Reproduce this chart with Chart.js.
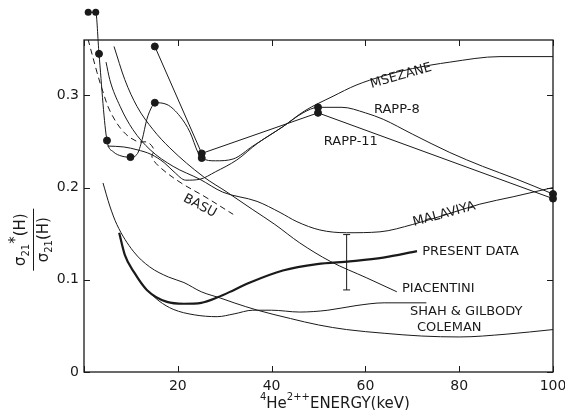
<!DOCTYPE html>
<html>
<head>
<meta charset="utf-8">
<script src="https://cdn.jsdelivr.net/npm/chart.js@4.4.1/dist/chart.umd.min.js"></script>
<style>
  html, body { margin: 0; padding: 0; background: #fff; }
</style>
</head>
<body>
<canvas id="chart" width="565" height="410"></canvas>
<script>
// 坐标轴刻度
const xTicks = [0, 20, 40, 60, 80, 100];
const yTicks = [0, 0.1, 0.2, 0.3];

// RAPP-8 平滑曲线及其测量点
const rapp8CurveE = [0.9, 2.5, 3.2, 4.9, 6.2, 8.1, 9.9, 11.3, 12.4, 13.4, 14.5, 15.1, 17.7, 20.5, 22.6, 24.3, 25.1, 28, 31.8, 36, 42.4, 46.7, 49.9, 55, 60, 63.8, 70, 78, 85, 92.3, 100];
const rapp8CurveV = [0.390, 0.390, 0.345, 0.251, 0.239, 0.234, 0.233, 0.236, 0.252, 0.274, 0.288, 0.292, 0.290, 0.277, 0.260, 0.238, 0.232, 0.229, 0.231, 0.245, 0.266, 0.281, 0.287, 0.287, 0.281, 0.274, 0.258, 0.238, 0.223, 0.209, 0.193];
const rapp8PointE = [0.9, 2.5, 3.2, 4.9, 9.9, 15.1, 25.1, 49.9, 100];
const rapp8PointV = [0.390, 0.390, 0.345, 0.251, 0.233, 0.292, 0.232, 0.287, 0.193];

// RAPP-11 折线
const rapp11E = [15.1, 25.1, 49.9, 100];
const rapp11V = [0.353, 0.237, 0.281, 0.188];

// 理论曲线
const msezaneE = [5, 8.5, 11.3, 14.3, 17.1, 19.2, 21.7, 24.7, 28, 32.6, 37, 42.4, 47, 53.1, 58, 63.8, 70, 78, 88.7, 100];
const msezaneV = [0.245, 0.244, 0.241, 0.236, 0.227, 0.217, 0.208, 0.209, 0.217, 0.230, 0.248, 0.266, 0.283, 0.299, 0.311, 0.321, 0.329, 0.336, 0.342, 0.342];

const malaviyaE = [4.7, 5.5, 7.7, 10.4, 14.1, 19, 24.7, 29.6, 36.9, 41.8, 45.4, 50.3, 56, 63.1, 70.1, 77.4, 84.4, 91.5, 100];
const malaviyaV = [0.336, 0.317, 0.288, 0.263, 0.241, 0.223, 0.209, 0.195, 0.185, 0.173, 0.163, 0.154, 0.151, 0.152, 0.160, 0.171, 0.182, 0.190, 0.200];

const piacentiniE = [6.4, 8.7, 11.3, 14.7, 18.3, 25.4, 30.5, 36, 40.7, 46, 52.5, 60.3, 66.7];
const piacentiniV = [0.353, 0.317, 0.288, 0.263, 0.243, 0.212, 0.195, 0.176, 0.160, 0.140, 0.120, 0.102, 0.087];

const basuE = [0.85, 2.77, 3.84, 5.54, 8.32, 11.3, 13.6, 14.9, 14.5, 16.2, 20.7, 25.8, 31.8];
const basuV = [0.361, 0.325, 0.307, 0.283, 0.261, 0.250, 0.249, 0.241, 0.233, 0.222, 0.205, 0.190, 0.171];

const colemanE = [4.05, 5.5, 7, 10.5, 14, 18, 21.3, 25, 29.2, 32, 37, 44, 50, 56, 64, 72, 80, 90, 100];
const colemanV = [0.205, 0.180, 0.160, 0.131, 0.114, 0.103, 0.097, 0.087, 0.080, 0.075, 0.067, 0.058, 0.051, 0.046, 0.042, 0.039, 0.038, 0.041, 0.046];

const shahE = [13.4, 16, 19, 23.5, 28.4, 32, 36, 40, 46, 52, 58, 64, 73];
const shahV = [0.089, 0.077, 0.068, 0.062, 0.060, 0.063, 0.067, 0.067, 0.065, 0.067, 0.072, 0.075, 0.075];

// 本实验数据
const presentE = [7.5, 8.7, 10.7, 13.4, 17.7, 21.3, 25, 28.5, 32, 35.4, 42.4, 49.7, 56.7, 63.8, 71];
const presentV = [0.151, 0.127, 0.108, 0.089, 0.076, 0.074, 0.075, 0.081, 0.089, 0.097, 0.110, 0.117, 0.120, 0.124, 0.131];

// 误差棒
const errE = 56;
const errLow = 0.089;
const errHigh = 0.149;

const ink = '#1a1a1a';
const face = '"DejaVu Sans", "Liberation Sans", sans-serif';

function pts(xs, ys) {
    return xs.map((x, i) => ({ x: x, y: ys[i] }));
}

function curve(xs, ys, extra) {
    return Object.assign({
        type: 'line',
        data: pts(xs, ys),
        borderColor: ink,
        borderWidth: 1,
        pointRadius: 0,
        cubicInterpolationMode: 'monotone',
        fill: false
    }, extra || {});
}

// 曲线标注（数据坐标）
const notes = [
    { text: 'MSEZANE', x: 67.6, y: 0.321, rot: -16, align: 'center' },
    { text: 'RAPP-8', x: 66.7, y: 0.284, rot: 0, align: 'center' },
    { text: 'RAPP-11', x: 56.9, y: 0.250, rot: 0, align: 'center' },
    { text: 'BASU', x: 24.7, y: 0.180, rot: 28, align: 'center' },
    { text: 'MALAVIYA', x: 76.8, y: 0.171, rot: -15, align: 'center' },
    { text: 'PRESENT DATA', x: 72.1, y: 0.130, rot: 0, align: 'left' },
    { text: 'PIACENTINI', x: 67.8, y: 0.090, rot: 0, align: 'left' },
    { text: 'SHAH & GILBODY', x: 69.5, y: 0.065, rot: 0, align: 'left' },
    { text: 'COLEMAN', x: 71.0, y: 0.048, rot: 0, align: 'left' }
];

function drawRun(ctx, parts, x0, base) {
    let cx = x0;
    parts.forEach(p => {
        ctx.font = p[1];
        ctx.fillText(p[0], cx, base + p[2]);
        cx += ctx.measureText(p[0]).width;
    });
}

function runWidth(ctx, parts) {
    let w = 0;
    parts.forEach(p => {
        ctx.font = p[1];
        w += ctx.measureText(p[0]).width;
    });
    return w;
}

// 边框、内向刻度、标注与坐标轴标题
const paperPlugin = {
    id: 'paper',
    afterDatasetsDraw(chart) {
        // Chart.js 不画绘图区外的点，这里补画（位置取自数据集元素）
        const { ctx, chartArea: a } = chart;
        ctx.save();
        ctx.fillStyle = ink;
        chart.data.datasets.forEach((ds, i) => {
            if (ds.clip !== false || !ds.pointRadius) return;
            chart.getDatasetMeta(i).data.forEach(el => {
                if (el.y >= a.top) return;
                ctx.beginPath();
                ctx.arc(el.x, el.y, ds.pointRadius, 0, Math.PI * 2);
                ctx.fill();
            });
        });
        ctx.restore();
    },
    afterDraw(chart) {
        const { ctx, chartArea: a } = chart;
        const xs = chart.scales.x, ys = chart.scales.y;
        ctx.save();
        ctx.strokeStyle = ink;
        ctx.fillStyle = ink;
        ctx.lineWidth = 1.3;
        ctx.strokeRect(a.left, a.top, a.right - a.left, a.bottom - a.top);

        ctx.lineWidth = 1;
        ctx.beginPath();
        xTicks.forEach(v => {
            const px = Math.round(xs.getPixelForValue(v)) + 0.5;
            ctx.moveTo(px, a.bottom); ctx.lineTo(px, a.bottom - 6);
            ctx.moveTo(px, a.top); ctx.lineTo(px, a.top + 6);
        });
        yTicks.forEach(v => {
            const py = Math.round(ys.getPixelForValue(v)) + 0.5;
            ctx.moveTo(a.left, py); ctx.lineTo(a.left + 6, py);
            ctx.moveTo(a.right, py); ctx.lineTo(a.right - 6, py);
        });
        ctx.stroke();

        // 曲线名称
        ctx.font = '13px ' + face;
        ctx.textBaseline = 'middle';
        notes.forEach(n => {
            ctx.save();
            ctx.translate(xs.getPixelForValue(n.x), ys.getPixelForValue(n.y));
            ctx.rotate(n.rot * Math.PI / 180);
            ctx.textAlign = n.align;
            ctx.fillText(n.text, 0, 0);
            ctx.restore();
        });

        // x 轴标题
        ctx.textAlign = 'left';
        ctx.textBaseline = 'alphabetic';
        const big = '15px ' + face, small = '10px ' + face;
        const xTitle = [['4', small, -8], ['He', big, 0], ['2++', small, -8], ['ENERGY(keV)', big, 0]];
        const xw = runWidth(ctx, xTitle);
        drawRun(ctx, xTitle, xs.getPixelForValue(53.5) - xw / 2, 408);

        // y 轴标题（分式）
        const cy = ys.getPixelForValue(0.1435);
        ctx.save();
        ctx.translate(33, cy);
        ctx.rotate(-Math.PI / 2);
        const num = [['σ', big, 0], ['21', small, 4], ['*', big, -5], ['(H)', big, 0]];
        const den = [['σ', big, 0], ['21', small, 4], ['(H)', big, 0]];
        drawRun(ctx, num, -runWidth(ctx, num) / 2, -8);
        drawRun(ctx, den, -runWidth(ctx, den) / 2, 15);
        ctx.lineWidth = 1;
        ctx.beginPath();
        ctx.moveTo(-31, 0.5); ctx.lineTo(31, 0.5);
        ctx.stroke();
        ctx.restore();

        ctx.restore();
    }
};

const datasets = [
    curve(msezaneE, msezaneV),
    curve(malaviyaE, malaviyaV),
    curve(piacentiniE, piacentiniV),
    curve(basuE, basuV, { cubicInterpolationMode: 'default', tension: 0.35, borderDash: [6, 4] }),
    curve(colemanE, colemanV),
    curve(shahE, shahV),
    curve(presentE, presentV, { borderWidth: 2.2 }),
    curve(rapp8CurveE, rapp8CurveV, { clip: false }),
    {
        type: 'line',
        data: pts(rapp11E, rapp11V),
        borderColor: ink,
        borderWidth: 1,
        tension: 0,
        pointRadius: 3.5,
        pointBackgroundColor: ink,
        pointBorderColor: ink,
        clip: false
    },
    {
        type: 'scatter',
        data: pts(rapp8PointE, rapp8PointV),
        pointRadius: 3.5,
        pointBackgroundColor: ink,
        pointBorderColor: ink,
        clip: false
    },
    {
        type: 'line',
        data: [{ x: errE, y: errLow }, { x: errE, y: errHigh }],
        borderColor: ink,
        borderWidth: 1,
        pointStyle: 'line',
        pointRadius: 3.5,
        pointBorderColor: ink,
        pointBorderWidth: 1
    }
];

const tickFont = { family: face, size: 14 };

new Chart(document.getElementById('chart'), {
    type: 'line',
    data: { datasets: datasets },
    options: {
        responsive: false,
        animation: false,
        layout: { padding: { top: 40, right: 12, bottom: 0, left: 0 } },
        plugins: {
            legend: { display: false },
            tooltip: { enabled: false }
        },
        scales: {
            x: {
                type: 'linear',
                min: 0,
                max: 100,
                grid: { display: false, drawTicks: false, tickLength: 0 },
                border: { display: false },
                afterBuildTicks: s => { s.ticks = xTicks.map(v => ({ value: v })); },
                afterFit: s => { s.height = 38; s.paddingLeft = 0; s.paddingRight = 0; },
                ticks: {
                    color: ink,
                    font: tickFont,
                    padding: 6,
                    maxRotation: 0,
                    autoSkip: false,
                    callback: v => (v === 0 ? '' : String(v))
                }
            },
            y: {
                type: 'linear',
                min: 0,
                max: 0.36,
                grid: { display: false, drawTicks: false, tickLength: 0 },
                border: { display: false },
                afterBuildTicks: s => { s.ticks = yTicks.map(v => ({ value: v })); },
                afterFit: s => { s.width = 84; },
                ticks: {
                    color: ink,
                    font: tickFont,
                    padding: 5,
                    autoSkip: false,
                    callback: v => (v === 0 ? '0' : v.toFixed(1))
                }
            }
        }
    },
    plugins: [paperPlugin]
});
</script>
</body>
</html>
